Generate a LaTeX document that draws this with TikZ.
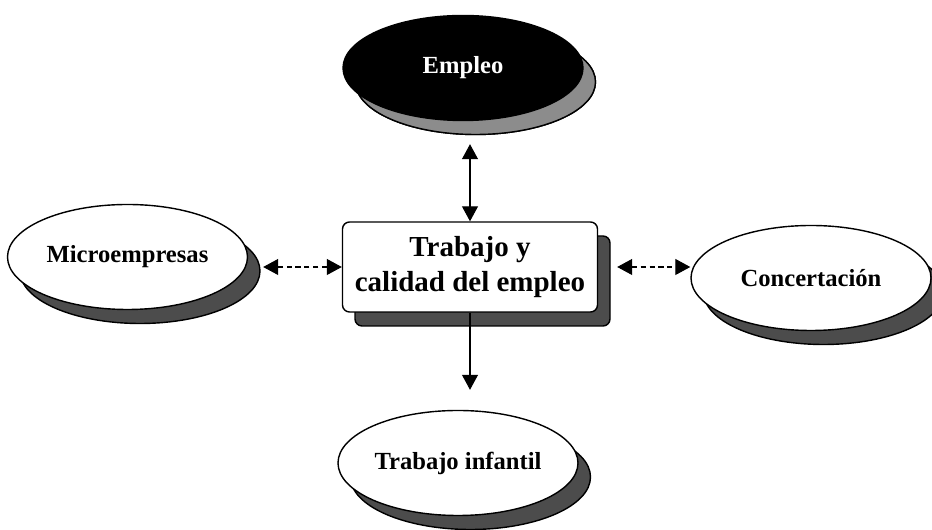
\documentclass[tikz,border=0pt]{standalone}
\usepackage{fontspec}
\setmainfont{Liberation Serif}
\usepackage{tikz}
\usetikzlibrary{arrows.meta, positioning, shapes, shadows}

\tikzset{
  shad/.style={copy shadow={shadow xshift=0.25cm, shadow yshift=-0.28cm, fill=black!70, draw=black}},
  tema/.style={draw, ellipse, thick, fill=white, shad, inner sep=0pt, minimum width=4.8cm, minimum height=2.1cm, font=\fontsize{14}{16}\selectfont\bfseries},
  centro/.style={draw, rounded corners=4pt, thick, fill=white, shad, minimum width=5.1cm, minimum height=1.8cm, align=center, font=\fontsize{16.5}{19.5}\selectfont\bfseries},
  flecha/.style={{Triangle[length=0.3cm, width=0.32cm]}-{Triangle[length=0.3cm, width=0.32cm]}, semithick}
}

\begin{document}
\begin{tikzpicture}
\useasboundingbox (0,0) rectangle (18.64,10.6);
\node[tema, fill=black, text=white, copy shadow={shadow xshift=0.25cm, shadow yshift=-0.28cm, fill=black!45, draw=black}] (emp) at (9.26,9.24) {Empleo};
\node[centro] (tra) at (9.4,5.26) {Trabajo y\\calidad del empleo};
\node[tema] (mic) at (2.55,5.46) {Microempresas};
\node[tema] (con) at (16.22,5.04) {Concertación};
\node[tema] (inf) at (9.16,1.34) {Trabajo infantil};
\draw[flecha] (tra.north) -- ([yshift=-0.46cm]tra.north |- emp.south);
\draw[flecha, densely dashed, shorten >=0.3cm] (tra.west) -- (tra.west -| mic.east);
\draw[flecha, densely dashed, shorten <=0.38cm] (tra.east) -- (tra.east -| con.west);
\draw[-{Triangle[length=0.3cm, width=0.32cm]}, semithick, shorten >=0.4cm] (tra.south) -- (tra.south |- inf.north);
\end{tikzpicture}
\end{document}
